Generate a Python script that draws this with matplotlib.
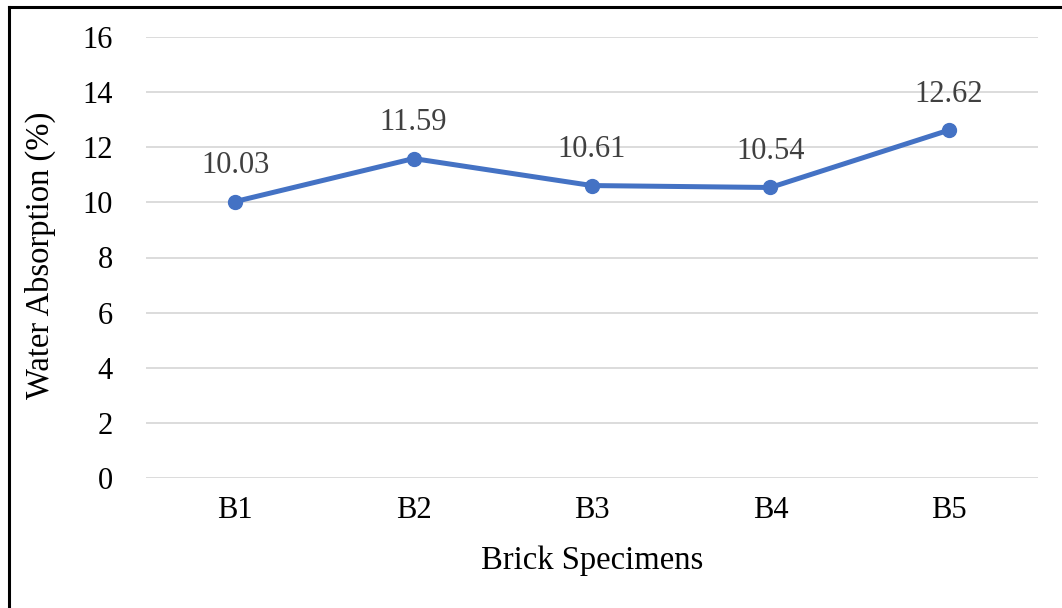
import matplotlib
matplotlib.use("Agg")
import matplotlib.pyplot as plt
from matplotlib.lines import Line2D

specimens = ["B1", "B2", "B3", "B4", "B5"]
absorption = [10.03, 11.59, 10.61, 10.54, 12.62]
y_ticks = [0, 2, 4, 6, 8, 10, 12, 14, 16]

plt.rcParams["font.family"] = ["Liberation Serif", "DejaVu Serif"]

fig = plt.figure(figsize=(10.62, 6.08), dpi=100)
ax = fig.add_axes([146 / 1062, 1 - 478 / 608, (1038 - 146) / 1062, (478 - 37) / 608])

x = list(range(len(specimens)))
ax.plot(x, absorption, color="#4472C4", linewidth=3.6, marker="o",
        markersize=10, solid_capstyle="round", zorder=3)

for xi, v in zip(x, absorption):
    ax.annotate(f"{v:.2f}", (xi, v), xytext=(0, 26), textcoords="offset points",
                ha="center", va="center", fontsize=22, color="#404040")

ax.set_xlim(-0.5, len(specimens) - 0.5)
ax.set_ylim(0, 16)
ax.set_yticks(y_ticks)
ax.set_xticks(x)
ax.set_xticklabels(specimens)
ax.tick_params(axis="both", length=0, labelsize=22, colors="black")
ax.tick_params(axis="y", pad=24)
ax.tick_params(axis="x", pad=13)
ax.grid(axis="y", color="#D9D9D9", linewidth=1.3)
ax.set_axisbelow(True)
for s in ax.spines.values():
    s.set_visible(False)

fig.text(40 / 1062, 1 - 255 / 608, "Water Absorption (%)", rotation=90,
         ha="center", va="center", fontsize=23.5)
fig.text(592 / 1062, 1 - 561 / 608, "Brick Specimens",
         ha="center", va="center", fontsize=23.5)

# frame around the chart (left and top edges)
fig.add_artist(Line2D([9 / 1062, 9 / 1062], [0, 1 - 7 / 608], color="black",
                      linewidth=2.2, transform=fig.transFigure))
fig.add_artist(Line2D([9 / 1062, 1], [1 - 7 / 608, 1 - 7 / 608], color="black",
                      linewidth=2.2, transform=fig.transFigure))

fig.savefig("out.png", dpi=100)
